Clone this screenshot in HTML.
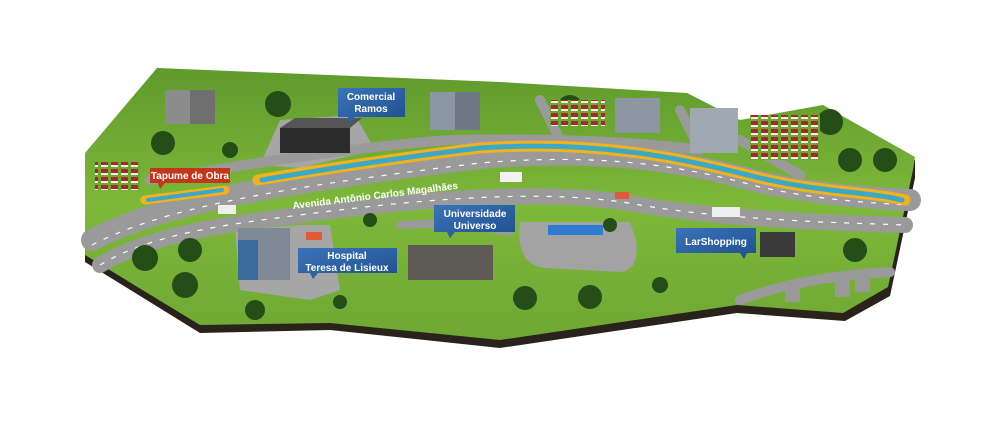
<!DOCTYPE html>
<html><head><meta charset="utf-8"><style>
html,body{margin:0;padding:0;background:#fff;width:1000px;height:428px;overflow:hidden}
svg text{font-family:"Liberation Sans",sans-serif;font-weight:bold}
</style></head><body>
<svg width="1000" height="428" viewBox="0 0 1000 428" xmlns="http://www.w3.org/2000/svg">
<defs>
<linearGradient id="g" x1="0" y1="0" x2="0" y2="1"><stop offset="0" stop-color="#5f9a2c"/><stop offset=".5" stop-color="#7db83a"/><stop offset="1" stop-color="#6ea833"/></linearGradient>
<linearGradient id="lb" x1="0" y1="0" x2="1" y2="1"><stop offset="0" stop-color="#3a74b8"/><stop offset="1" stop-color="#1f4f8f"/></linearGradient>
<pattern id="hs" width="10" height="8" patternUnits="userSpaceOnUse"><rect width="10" height="8" fill="#6ea833"/><rect x="1" y="1" width="7" height="5" fill="#a8282c"/><rect x="1" y="5" width="7" height="2" fill="#eee"/></pattern>
</defs>
<polygon points="85,160 85,262 200,333 330,330 500,348 737,313 845,321 890,296 915,178 915,160" fill="#2a231c"/>
<polygon points="85,153 157,68 500,82 687,93 740,120 823,105 915,157 913,170 888,287 843,313 737,305 500,340 330,323 200,325 85,255" fill="url(#g)"/>
<polygon points="260,165 280,120 355,115 375,150 300,168" fill="#a6a6a6"/>
<polygon points="235,230 300,225 330,225 340,290 310,300 240,290" fill="#a6a6a6"/>
<path d="M520,222 Q515,265 545,268 L620,272 Q640,270 636,240 L630,222 Z" fill="#a3a3a3"/>
<g fill="none" stroke="#9a9a9a" stroke-linecap="round">
<path d="M92,240 C160,205 260,185 480,158 C600,148 680,160 760,182 C820,195 870,198 910,200" stroke-width="22"/>
<path d="M100,265 C150,235 220,225 300,215 C450,195 560,190 640,205 C700,215 750,218 820,222 L905,225" stroke-width="16"/>
<path d="M150,180 C220,170 320,150 450,140 C560,138 640,142 700,150" stroke-width="10"/>
<path d="M540,100 L560,140" stroke-width="10"/>
<path d="M680,110 L700,150" stroke-width="10"/>
<path d="M740,140 L800,175" stroke-width="10"/>
<path d="M740,300 C780,285 830,275 890,272" stroke-width="10"/>
<path d="M400,225 C440,222 470,225 510,232" stroke-width="8"/>
</g>
<g fill="none" stroke="#fff" stroke-width="1.2" stroke-dasharray="5,8">
<path d="M92,245 C160,210 260,190 480,163 C600,153 680,165 760,187 C820,200 870,203 910,205"/>
<path d="M100,265 C150,235 220,225 300,215 C450,195 560,190 640,205 C700,215 750,218 820,222 L905,225"/>
</g>
<g fill="none" stroke-linecap="round">
<path d="M145,200 L225,190" stroke="#f3b21b" stroke-width="9"/>
<path d="M148,200 L222,190" stroke="#3ba8c8" stroke-width="4"/>
<path d="M258,180 C330,168 420,155 480,148 C600,140 680,158 760,178 C820,192 870,192 905,200" stroke="#f3b21b" stroke-width="11"/>
<path d="M262,180 C330,168 420,155 480,148 C600,140 680,158 760,178 C820,192 870,192 902,200" stroke="#3ba8c8" stroke-width="5"/>
</g>
<g fill="#244d17">
<circle cx="278" cy="104" r="13"/><circle cx="163" cy="143" r="12"/><circle cx="145" cy="258" r="13"/><circle cx="190" cy="250" r="12"/><circle cx="185" cy="285" r="13"/><circle cx="255" cy="310" r="10"/>
<circle cx="525" cy="298" r="12"/><circle cx="590" cy="297" r="12"/><circle cx="570" cy="108" r="13"/><circle cx="830" cy="122" r="13"/><circle cx="850" cy="160" r="12"/><circle cx="885" cy="160" r="12"/><circle cx="855" cy="250" r="12"/>
<circle cx="340" cy="302" r="7"/><circle cx="660" cy="285" r="8"/><circle cx="230" cy="150" r="8"/><circle cx="370" cy="220" r="7"/><circle cx="610" cy="225" r="7"/>
</g>
<g>
<rect x="165" y="90" width="50" height="34" fill="#8c8c8c"/><rect x="190" y="90" width="25" height="34" fill="#6f6f6f"/>
<rect x="280" y="128" width="70" height="25" fill="#2b2b2b"/><polygon points="280,128 295,118 362,118 350,128" fill="#555"/>
<rect x="430" y="92" width="50" height="38" fill="#8d97a3"/><rect x="455" y="92" width="25" height="38" fill="#6f7884"/>
<rect x="550" y="100" width="55" height="26" fill="url(#hs)"/>
<rect x="615" y="98" width="45" height="35" fill="#8d97a3"/>
<rect x="690" y="108" width="48" height="45" fill="#a0a8b2"/>
<rect x="750" y="115" width="70" height="45" fill="url(#hs)"/>
<rect x="95" y="162" width="45" height="28" fill="url(#hs)"/>
<rect x="238" y="228" width="52" height="52" fill="#7f8a96"/><rect x="238" y="240" width="20" height="40" fill="#3c6a9a"/>
<rect x="408" y="245" width="85" height="35" fill="#5e5a55"/>
<rect x="760" y="232" width="35" height="25" fill="#3a3a3a"/>
<rect x="785" y="282" width="15" height="20" fill="#999"/><rect x="835" y="275" width="15" height="22" fill="#999"/><rect x="855" y="270" width="15" height="22" fill="#999"/>
<rect x="500" y="172" width="22" height="10" fill="#f2f2f2"/><rect x="712" y="207" width="28" height="10" fill="#eee"/>
<rect x="218" y="205" width="18" height="9" fill="#eee"/>
<rect x="548" y="225" width="55" height="10" fill="#2f7bd0"/><rect x="306" y="232" width="16" height="8" fill="#e05a3a"/><rect x="615" y="192" width="14" height="7" fill="#e05a3a"/>
</g>
<g>
<polygon points="338,88 405,88 405,117 355,117 348,124 348,117 338,117" fill="url(#lb)"/>
<text x="371" y="100" font-size="10" fill="#fff" text-anchor="middle">Comercial</text>
<text x="371" y="112" font-size="10" fill="#fff" text-anchor="middle">Ramos</text>
<polygon points="150,168 230,168 230,183 165,183 160,189 158,183 150,183" fill="#c2371c"/>
<text x="190" y="179" font-size="10" fill="#fff" text-anchor="middle">Tapume de Obra</text>
<polygon points="434,205 515,205 515,232 455,232 450,238 447,232 434,232" fill="url(#lb)"/>
<text x="475" y="217" font-size="10" fill="#fff" text-anchor="middle">Universidade</text>
<text x="475" y="229" font-size="10" fill="#fff" text-anchor="middle">Universo</text>
<polygon points="298,248 397,248 397,273 318,273 313,279 310,273 298,273" fill="url(#lb)"/>
<text x="347" y="259" font-size="10" fill="#fff" text-anchor="middle">Hospital</text>
<text x="347" y="271" font-size="10" fill="#fff" text-anchor="middle">Teresa de Lisieux</text>
<polygon points="676,228 756,228 756,253 747,253 744,259 740,253 676,253" fill="url(#lb)"/>
<text x="716" y="245" font-size="10" fill="#fff" text-anchor="middle">LarShopping</text>
<text x="293" y="209" font-size="10" fill="#fff" transform="rotate(-7 293 209)">Avenida Antônio Carlos Magalhães</text>
</g>
</svg>
</body></html>
